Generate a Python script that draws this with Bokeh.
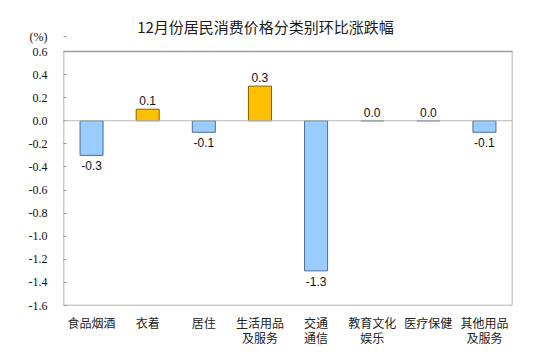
from bokeh.plotting import figure
from bokeh.models import (FactorRange, Range1d, FixedTicker, Span, ColumnDataSource, LabelSet,
                          BoxAnnotation, CategoricalAxis, Label)
from bokeh.core.properties import value
from bokeh.embed import file_html
from bokeh.resources import INLINE

categories = ["食品烟酒", "衣着", "居住", "生活用品及服务", "交通通信", "教育文化娱乐", "医疗保健", "其他用品及服务"]
label_line1 = ["食品烟酒", "衣着", "居住", "生活用品", "交通", "教育文化", "医疗保健", "其他用品"]
label_line2 = ["", "", "", "及服务", "通信", "娱乐", "", "及服务"]
values = [-0.3, 0.1, -0.1, 0.3, -1.3, 0.0, 0.0, -0.1]
y_ticks = [-1.6, -1.4, -1.2, -1.0, -0.8, -0.6, -0.4, -0.2, 0.0, 0.2, 0.4, 0.6]
y_min, y_max = -1.6, 0.6
title_text = "12月份居民消费价格分类别环比涨跌幅"
unit_text = "(%)"

W, H = 552, 359
FL, FR, FT, FB = 63, 512, 51, 305   # plot box edges in page pixels
TOP = 6                               # frame extended upward to hold the title
px_per_unit = (FB - FT) / (y_max - y_min)
y_top = y_max + (FT - TOP) / px_per_unit
unit_y = y_max + (FT - 36) / px_per_unit   # where the "(%)" note sits

fill = ["#FFC000" if v > 0 else "#99CCFF" for v in values]
edge = ["#7F6000" if v > 0 else "#4F6F8F" for v in values]
bars = ColumnDataSource(dict(x=categories, top=values, fill=fill, edge=edge))

pos_idx = [i for i, v in enumerate(values) if v >= 0]
neg_idx = [i for i, v in enumerate(values) if v < 0]
pos_src = ColumnDataSource(dict(x=[categories[i] for i in pos_idx], y=[values[i] for i in pos_idx],
                                t=[f"{values[i]:.1f}" for i in pos_idx]))
neg_src = ColumnDataSource(dict(x=[categories[i] for i in neg_idx], y=[values[i] for i in neg_idx],
                                t=[f"{values[i]:.1f}" for i in neg_idx]))

# factor names must be unique: pad duplicates / blanks with zero-width spaces
def uniq(labels):
    seen, out = set(), []
    for s in labels:
        t = s
        while t in seen or t == "":
            t += "\u200b"
        seen.add(t)
        out.append(t)
    return out

p = figure(width=W, height=H, x_range=FactorRange(*categories), y_range=Range1d(y_min, y_top),
           output_backend="svg", toolbar_location=None, x_axis_location=None,
           min_border_left=FL, min_border_right=W - FR, min_border_top=TOP, min_border_bottom=H - FB)
p.extra_x_ranges = {"line1": FactorRange(*uniq(label_line1)), "line2": FactorRange(*uniq(label_line2))}
p.background_fill_color = "white"
p.border_fill_color = "white"
p.outline_line_color = None
p.xgrid.visible = False
p.ygrid.visible = False

p.vbar(x="x", top="top", bottom=0, width=0.41, fill_color="fill", line_color="edge",
       line_width=1, source=bars)

p.add_layout(Span(location=0, dimension="width", line_color="#B8B8B8", line_width=1.2))
p.add_layout(BoxAnnotation(top=y_max, bottom=y_min, fill_alpha=0, line_color="#9A9A9A",
                           line_width=1.5, line_alpha=1))

for src, off, base in ((pos_src, 4, "bottom"), (neg_src, -6, "top")):
    p.add_layout(LabelSet(x="x", y="y", text="t", y_offset=off, source=src,
                          text_align="center", text_baseline=base,
                          text_font=value("Liberation Sans"), text_font_size=value("12px"),
                          text_color="#111111"))

# y axis (the "(%)" unit note is an extra tick label above the box)
ticks = y_ticks + [unit_y]
overrides = {t: f"{t:.1f}" for t in y_ticks}
overrides[unit_y] = unit_text
p.yaxis.ticker = FixedTicker(ticks=ticks)
p.yaxis.major_label_overrides = overrides
p.yaxis.major_label_text_font = "Liberation Serif"
p.yaxis.major_label_text_font_size = "12px"
p.yaxis.major_label_text_color = "#111111"
p.yaxis.axis_line_color = None
p.yaxis.major_tick_in = 3
p.yaxis.major_tick_out = 0
p.yaxis.major_tick_line_color = "#9A9A9A"
p.yaxis.minor_tick_line_color = None
p.yaxis.major_label_standoff = 16

# two stacked category axes below: first and second line of each label
for rname, standoff in (("line1", 8), ("line2", -5)):
    ax = CategoricalAxis(x_range_name=rname,
                         major_label_standoff=standoff,
                         major_label_text_font="Noto Sans CJK SC",
                         major_label_text_font_size="12px",
                         major_label_text_color="#222222",
                         axis_line_color=None, major_tick_line_color=None,
                         minor_tick_line_color=None, major_tick_in=0, major_tick_out=0)
    p.add_layout(ax, "below")

# chart title (screen units measured from the frame's bottom-left corner)
p.add_layout(Label(x=265 - FL, y=FB - 26, x_units="screen", y_units="screen", text=title_text,
                   text_font="Noto Sans CJK SC", text_font_size="15px", text_font_style="normal",
                   text_color="#1A1A1A", text_align="center", text_baseline="middle"))

open("out.html", "w").write(file_html(p, INLINE))
